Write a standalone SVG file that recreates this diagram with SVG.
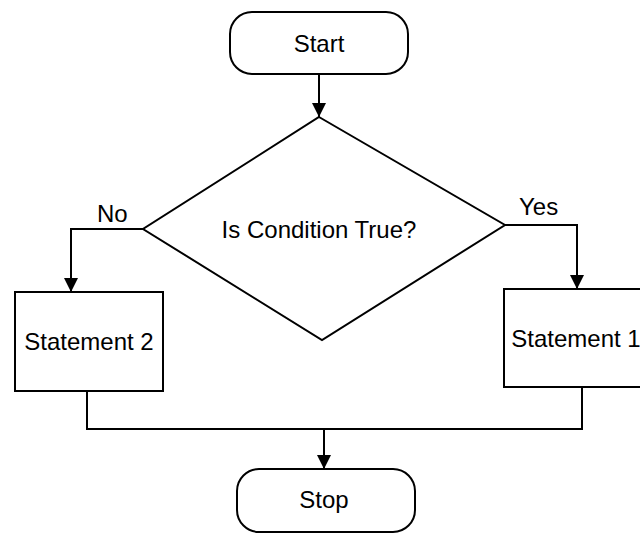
<svg xmlns="http://www.w3.org/2000/svg" width="640" height="534" viewBox="0 0 640 534">
<style>
.shape{fill:#fff;stroke:#000;stroke-width:2}
.line{fill:none;stroke:#000;stroke-width:2}
text{font-family:"Liberation Sans",Arial,sans-serif;font-size:24px;fill:#000}
.c{text-anchor:middle}
</style>
<defs>
<marker id="ah" markerUnits="userSpaceOnUse" markerWidth="14" markerHeight="14" viewBox="0 0 14 14" refX="14" refY="7" orient="auto">
<path d="M0,0 L14,7 L0,14 Z" fill="#000"/>
</marker>
</defs>
<g id="connectors">
<path class="line" d="M319,74 L319,117" marker-end="url(#ah)"/>
<path class="line" d="M143,229 L71,229 L71,292" marker-end="url(#ah)"/>
<path class="line" d="M505,225 L577,225 L577,289" marker-end="url(#ah)"/>
<path class="line" d="M87,391 L87,429 L582,429 L582,387"/>
<path class="line" d="M324,429 L324,469" marker-end="url(#ah)"/>
</g>
<g id="start">
<rect class="shape" x="230" y="12" width="178" height="62" rx="22"/>
<text class="c" x="319" y="52">Start</text>
</g>
<g id="decision">
<polygon class="shape" points="319,117 505,225 322,340 143,229"/>
<text class="c" x="319" y="238">Is Condition True?</text>
</g>
<text id="label-no" x="97" y="222">No</text>
<text id="label-yes" x="519" y="215">Yes</text>
<g id="statement2">
<rect class="shape" x="15" y="292" width="148" height="99"/>
<text class="c" x="89" y="350">Statement 2</text>
</g>
<g id="statement1">
<rect class="shape" x="504" y="289" width="142" height="98"/>
<text class="c" x="576" y="347">Statement 1</text>
</g>
<g id="stop">
<rect class="shape" x="237" y="469" width="178" height="63" rx="22"/>
<text class="c" x="324" y="508">Stop</text>
</g>
</svg>
